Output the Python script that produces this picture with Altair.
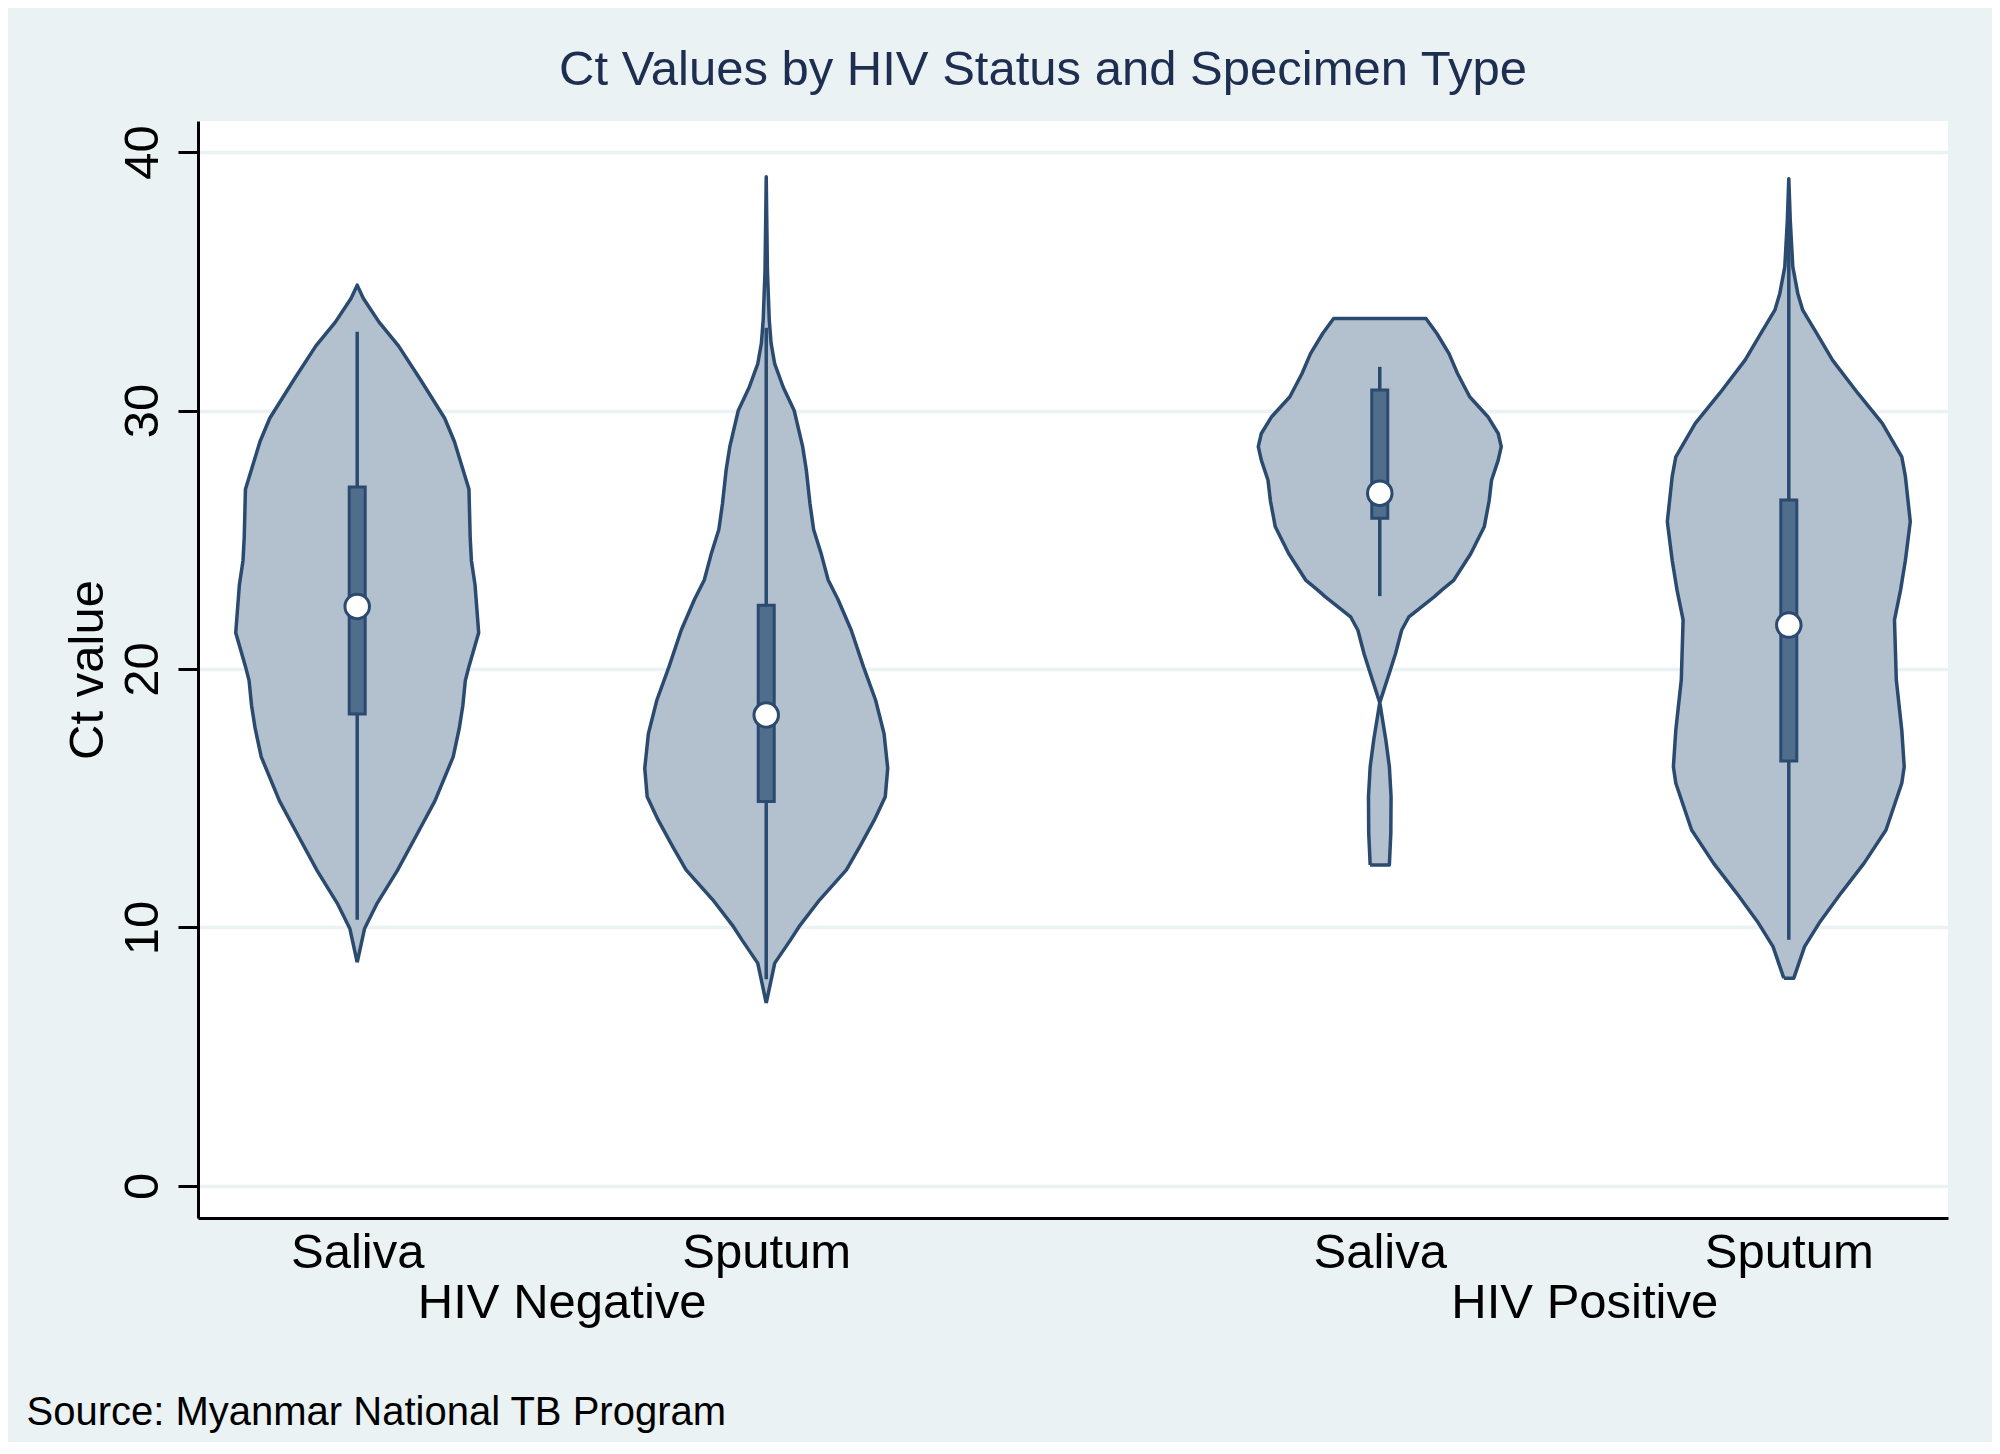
import altair as alt
import pandas as pd

# ---------------- data ----------------
GROUPS = ["HIV Negative", "HIV Positive"]
SPECIMENS = ["Saliva", "Sputum"]
TITLE = "Ct Values by HIV Status and Specimen Type"
Y_TITLE = "Ct value"
SOURCE = "Source: Myanmar National TB Program"
Y_TICKS = [0, 10, 20, 30, 40]

# violin outlines: Ct level and relative density (1 = widest point of that violin)
NEG_SALIVA_CT = [8.65, 9.95, 10.9, 12.2, 13.5, 14.9, 16.6, 17.7, 18.6, 19.55, 20.1, 21.4,
                 23.25, 24.2, 25.1, 26.95, 28.8, 29.7, 31.2, 32.5, 33.42, 34.34, 34.85]
NEG_SALIVA_DENS = [0, 0.06, 0.16, 0.33, 0.48, 0.64, 0.79, 0.84, 0.87, 0.89, 0.92, 1.0,
                   0.97, 0.94, 0.93, 0.92, 0.80, 0.72, 0.52, 0.34, 0.18, 0.05, 0]

NEG_SPUTUM_CT = [7.07, 8.62, 9.52, 10.03, 11.07, 12.23, 13.13, 14.16, 15.06, 16.16, 17.5,
                 18.8, 20.09, 21.5, 22.7, 23.44, 24.5, 25.4, 26.4, 27.7, 28.6, 30.0, 30.9,
                 31.8, 32.6, 33.5, 35.4, 37.5, 39.04]
NEG_SPUTUM_DENS = [0, 0.07, 0.20, 0.27, 0.44, 0.66, 0.77, 0.89, 0.98, 1.0, 0.97,
                   0.90, 0.80, 0.70, 0.59, 0.51, 0.45, 0.39, 0.36, 0.33, 0.30, 0.23, 0.14,
                   0.07, 0.04, 0.025, 0.01, 0.004, 0]

POS_SALIVA_CT = [12.42, 13.65, 15.06, 16.22, 17.25, 18.7, 19.96, 20.6, 21.5, 22.02, 22.8,
                 23.05, 23.44, 24.47, 25.5, 26.5, 27.3, 28.08, 28.6, 29.11, 29.76, 30.53,
                 31.43, 32.2, 32.98, 33.56]
POS_SALIVA_DENS = [0.079, 0.091, 0.093, 0.079, 0.05, 0, 0.087, 0.13, 0.18, 0.24, 0.45,
                   0.51, 0.61, 0.75, 0.86, 0.90, 0.92, 0.975, 1.0, 0.975, 0.89, 0.74,
                   0.64, 0.57, 0.47, 0.38]

POS_SPUTUM_CT = [8.04, 9.26, 10.17, 11.33, 12.49, 13.77, 15.58, 16.22, 17.64, 19.58, 21.9,
                 23.05, 24.21, 25.7, 27.44, 28.21, 29.5, 30.66, 31.95, 32.98, 33.88, 34.53,
                 35.56, 37.36, 38.97]
POS_SPUTUM_DENS = [0.041, 0.13, 0.25, 0.43, 0.62, 0.80, 0.93, 0.95, 0.93, 0.885, 0.87,
                   0.92, 0.96, 1.0, 0.96, 0.93, 0.77, 0.57, 0.36, 0.23, 0.115, 0.074,
                   0.033, 0.012, 0]

PROFILES = [
    (NEG_SALIVA_CT, NEG_SALIVA_DENS),
    (NEG_SPUTUM_CT, NEG_SPUTUM_DENS),
    (POS_SALIVA_CT, POS_SALIVA_DENS),
    (POS_SPUTUM_CT, POS_SPUTUM_DENS),
]

# box statistics in the order Neg-Saliva, Neg-Sputum, Pos-Saliva, Pos-Sputum
WHISKER_LO = [10.3, 8.0, 22.82, 9.52]
Q1 = [18.26, 14.87, 25.83, 16.44]
MEDIAN = [22.42, 18.22, 26.8, 21.7]
Q3 = [27.04, 22.47, 30.79, 26.54]
WHISKER_HI = [33.05, 33.2, 31.69, 37.36]

# ---------------- style ----------------
FONT = "Liberation Sans"
BG = "#EAF2F3"
FILL = "#B3C0CD"
LINE = "#2A4A6F"
BOX_FILL = "#506D8C"
TITLE_COLOR = "#1E2E50"
HALF_WIDTH = 0.297      # half-width of the widest violin, in x units
GROUP_GAP = 0.5

# ---------------- build tables ----------------
positions, labels, groups = [], [], []
for g, grp in enumerate(GROUPS):
    for s, spec in enumerate(SPECIMENS):
        positions.append(1 + g * (len(SPECIMENS) + GROUP_GAP) + s)
        labels.append(spec)
        groups.append(grp)
group_centers = [
    sum(positions[g * len(SPECIMENS):(g + 1) * len(SPECIMENS)]) / len(SPECIMENS)
    for g in range(len(GROUPS))
]

fill_rows, line_rows = [], []
for vid, (pos, (cts, dens)) in enumerate(zip(positions, PROFILES)):
    for c, d in zip(cts, dens):
        fill_rows.append({"vid": vid, "ct": c, "left": pos - d * HALF_WIDTH,
                          "right": pos + d * HALF_WIDTH})
    seq = 0
    pts = [(pos - d * HALF_WIDTH, c) for c, d in zip(cts, dens)]
    pts += [(pos + d * HALF_WIDTH, c) for c, d in reversed(list(zip(cts, dens)))]
    pts.append(pts[0])
    for x, c in pts:
        line_rows.append({"vid": vid, "x": x, "ct": c, "seq": seq})
        seq += 1

fill_df = pd.DataFrame(fill_rows)
line_df = pd.DataFrame(line_rows)
box_df = pd.DataFrame({"pos": positions, "lo": WHISKER_LO, "q1": Q1, "med": MEDIAN,
                       "q3": Q3, "hi": WHISKER_HI, "spec": labels, "grp": groups})


def label_expr(vals, names):
    expr = "''"
    for v, n in reversed(list(zip(vals, names))):
        expr = f"datum.value == {v} ? '{n}' : ({expr})"
    return expr


x_scale = alt.Scale(domain=[0.623, 4.877], nice=False, zero=False)
y_scale = alt.Scale(domain=[-1.24, 41.2], nice=False, zero=False)

x_axis_spec = alt.Axis(
    orient="bottom", values=positions, labelExpr=label_expr(positions, labels),
    domain=True, domainColor="black", domainWidth=3, ticks=False, tickSize=0,
    grid=False, labelFont=FONT, labelFontSize=49, labelColor="black",
    labelPadding=10, labelOverlap=False, labelFlush=False, labelBound=False,
    labelLimit=1000, title=None)

x_axis_group = alt.Axis(
    orient="bottom", values=group_centers, labelExpr=label_expr(group_centers, GROUPS),
    domain=False, ticks=False, tickSize=0, grid=False, labelFont=FONT,
    labelFontSize=49, labelColor="black", labelPadding=60, labelOverlap=False,
    labelFlush=False, labelBound=False, labelLimit=1000,
    title=SOURCE, titleFont=FONT, titleFontSize=40, titleFontWeight="normal",
    titleColor="black", titleX=-172, titleY=206, titleAlign="left",
    titleBaseline="alphabetic", titleAngle=0, titleLimit=2000)

y_axis = alt.Axis(
    values=Y_TICKS, title=Y_TITLE, titleFont=FONT, titleFontSize=49,
    titleFontWeight="normal", titleColor="black", titleX=-96, titleAngle=270,
    titleBaseline="alphabetic", labelFont=FONT, labelFontSize=49, labelColor="black",
    labelAngle=270, labelAlign="center", labelBaseline="alphabetic", labelPadding=21,
    tickSize=20, tickWidth=3, tickColor="black", domainColor="black", domainWidth=3,
    grid=True, gridColor=BG, gridWidth=3.5, labelOverlap=False, labelFlush=False)

fill = alt.Chart(fill_df).mark_area(orient="horizontal", color=FILL, opacity=1).encode(
    y=alt.Y("ct:Q", scale=y_scale, axis=y_axis),
    x=alt.X("left:Q", scale=x_scale, axis=x_axis_spec),
    x2="right:Q",
    detail="vid:N",
)

outline = alt.Chart(line_df).mark_line(color=LINE, strokeWidth=3.5, strokeJoin="round").encode(
    x=alt.X("x:Q", scale=x_scale, axis=None),
    y=alt.Y("ct:Q", scale=y_scale, axis=None),
    detail="vid:N",
    order="seq:Q",
)

whisker = alt.Chart(box_df).mark_rule(color=LINE, strokeWidth=3.5).encode(
    x=alt.X("pos:Q", scale=x_scale, axis=None),
    y=alt.Y("lo:Q", scale=y_scale, axis=None),
    y2="hi:Q",
)

box = alt.Chart(box_df).mark_bar(size=16, color=BOX_FILL, stroke=LINE, strokeWidth=3).encode(
    x=alt.X("pos:Q", scale=x_scale, axis=None),
    y=alt.Y("q1:Q", scale=y_scale, axis=None),
    y2="q3:Q",
)

median = alt.Chart(box_df).mark_point(shape="circle", filled=True, fill="white",
                                      stroke=LINE, strokeWidth=3, size=600,
                                      opacity=1).encode(
    x=alt.X("pos:Q", scale=x_scale, axis=x_axis_group),
    y=alt.Y("med:Q", scale=y_scale, axis=None),
)

chart = alt.layer(fill, outline, whisker, box, median).resolve_axis(
    x="independent", y="independent"
).properties(
    width=1750,
    height=1097,
    padding={"left": 190, "top": 113, "right": 44, "bottom": 224},
    autosize=alt.AutoSizeParams(type="none"),
    title=alt.TitleParams(
        TITLE, anchor="middle", frame="group", dx=-30, dy=47, offset=34,
        baseline="alphabetic", font=FONT, fontSize=49, fontWeight="normal",
        color=TITLE_COLOR),
).configure(
    background=BG,
).configure_view(
    fill="white", stroke=None,
)

chart.save("out.html", embed_options={"renderer": "svg", "actions": False})
